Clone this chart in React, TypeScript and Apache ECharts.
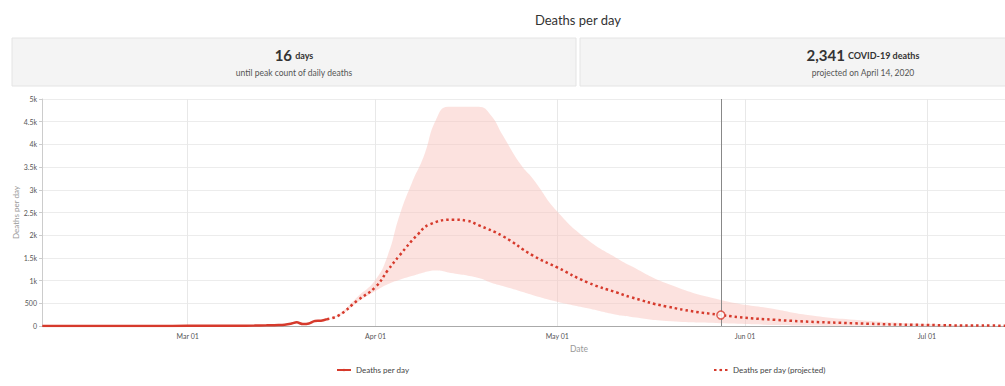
import React, { useEffect, useRef } from "react";
import * as echarts from "echarts";

// ---- data ----
const actualDates = [
  "2020-02-06", "2020-02-15", "2020-02-25", "2020-03-01", "2020-03-05", "2020-03-09",
  "2020-03-12", "2020-03-14", "2020-03-16", "2020-03-17", "2020-03-18", "2020-03-19",
  "2020-03-20", "2020-03-21", "2020-03-22", "2020-03-23", "2020-03-24",
];
const actualValues = [0, 1, 2, 3, 4, 6, 10, 15, 22, 30, 50, 80, 42, 55, 112, 115, 150];

const projDates = [
  "2020-03-24", "2020-03-26", "2020-03-29", "2020-04-01", "2020-04-03", "2020-04-05",
  "2020-04-08", "2020-04-10", "2020-04-14", "2020-04-16", "2020-04-18", "2020-04-22",
  "2020-04-27", "2020-05-01", "2020-05-06", "2020-05-11", "2020-05-13", "2020-05-19",
  "2020-05-28", "2020-06-06", "2020-06-19", "2020-07-01", "2020-07-14", "2020-07-20",
];
const projValues = [
  150, 240, 560, 860, 1220, 1560, 2020, 2240, 2341, 2320, 2220, 1980,
  1550, 1290, 960, 730, 640, 430, 242, 135, 60, 22, 7, 4,
];

const bandDates = [
  "2020-03-24", "2020-03-26", "2020-03-29", "2020-04-01", "2020-04-03", "2020-04-05",
  "2020-04-07", "2020-04-09", "2020-04-11", "2020-04-13", "2020-04-18", "2020-04-20",
  "2020-04-22", "2020-04-25", "2020-04-27", "2020-05-01", "2020-05-06", "2020-05-11",
  "2020-05-13", "2020-05-19", "2020-05-28", "2020-06-06", "2020-06-11", "2020-06-19",
  "2020-07-01", "2020-07-14", "2020-07-20",
];
const bandLower = [
  150, 225, 520, 770, 920, 1020, 1100, 1180, 1220, 1180, 1060, 960,
  880, 760, 680, 535, 390, 240, 205, 110, 60, 22, 10, 5, 2, 0, 0,
];
const bandUpper = [
  150, 265, 640, 1020, 1550, 2450, 3150, 3750, 4550, 4830, 4830, 4650,
  4200, 3550, 3240, 2520, 1900, 1480, 1330, 940, 573, 370, 250, 140, 45, 7, 4,
];

const markerDate = "2020-05-28";
const markerValue = 242;

const yTicks = { min: 0, max: 5000, interval: 500 };

const DAY = 86400000;
const MAR1 = new Date(2020, 2, 1).getTime();
const MONTHS = ["Jan", "Feb", "Mar", "Apr", "May", "Jun", "Jul", "Aug", "Sep", "Oct", "Nov", "Dec"];

const RED = "#d63a2c";
const FONT = "Lato, 'Open Sans', sans-serif";

export default function App() {
  const ref = useRef<HTMLDivElement>(null);

  useEffect(() => {
    document.body.style.margin = "0";
    const chart = echarts.init(ref.current!, null, { renderer: "svg" });

    const actual = actualDates.map((d, i) => [d, actualValues[i]]);
    const proj = projDates.map((d, i) => [d, projValues[i]]);
    const low = bandDates.map((d, i) => [d, bandLower[i]]);
    const range = bandDates.map((d, i) => [d, bandUpper[i] - bandLower[i]]);

    chart.setOption({
      animation: false,
      textStyle: { fontFamily: FONT },
      grid: { left: 42, right: 0, top: 99, bottom: 60, containLabel: false },
      xAxis: {
        type: "time",
        min: MAR1 - 24.05 * DAY,
        max: MAR1 + 134.9 * DAY,
        minInterval: 28 * DAY,
        maxInterval: 31 * DAY,
        axisLine: { lineStyle: { color: "#aaa" } },
        axisTick: { show: false },
        splitLine: { show: true, lineStyle: { color: "#e8e8e8" } },
        axisLabel: {
          fontSize: 7,
          color: "#555",
          margin: 6,
          formatter: (v: number) => {
            const d = new Date(v);
            return MONTHS[d.getMonth()] + " " + String(d.getDate()).padStart(2, "0");
          },
        },
      },
      yAxis: {
        type: "value",
        min: yTicks.min,
        max: yTicks.max,
        interval: yTicks.interval,
        name: "Deaths per day",
        nameLocation: "middle",
        nameGap: 22,
        nameMoveOverlap: false,
        nameTextStyle: { color: "#999", fontSize: 8 },
        axisLine: { show: true, lineStyle: { color: "#ccc" } },
        axisTick: { show: true, length: 3, lineStyle: { color: "#ccc" } },
        splitLine: { lineStyle: { color: "#ececec" } },
        axisLabel: {
          fontSize: 7,
          color: "#555",
          margin: 5,
          formatter: (v: number) => (v >= 1000 ? v / 1000 + "k" : String(v)),
        },
      },
      legend: [
        {
          data: ["Deaths per day"],
          left: 331,
          top: 361,
          itemWidth: 14,
          itemHeight: 3,
          itemGap: 8,
          textStyle: { fontSize: 8, color: "#444" },
        },
        {
          data: ["Deaths per day (projected)"],
          left: 708,
          top: 361,
          itemWidth: 14,
          itemHeight: 3,
          textStyle: { fontSize: 8, color: "#444" },
        },
      ],
      series: [
        {
          name: "bandLow",
          type: "line",
          stack: "band",
          data: low,
          symbol: "none",
          smooth: 0.5,
          lineStyle: { opacity: 0 },
          silent: true,
        },
        {
          name: "bandRange",
          type: "line",
          stack: "band",
          data: range,
          symbol: "none",
          smooth: 0.5,
          lineStyle: { opacity: 0 },
          areaStyle: { color: "rgba(248, 196, 190, 0.7)" },
          silent: true,
        },
        {
          name: "Deaths per day",
          type: "line",
          data: actual,
          symbol: "none",
          smooth: 0.3,
          color: RED,
          lineStyle: { color: RED, width: 2.5 },
          z: 5,
        },
        {
          name: "Deaths per day (projected)",
          type: "line",
          data: proj,
          symbol: "none",
          smooth: 0.5,
          color: RED,
          lineStyle: { color: RED, width: 2.5, type: [2.5, 3] },
          z: 5,
          markLine: {
            silent: true,
            symbol: "none",
            label: { show: false },
            lineStyle: { color: "#888", type: "solid", width: 1 },
            data: [{ xAxis: markerDate }],
          },
        },
        {
          name: "marker",
          type: "scatter",
          data: [[markerDate, markerValue]],
          symbol: "circle",
          symbolSize: 8,
          itemStyle: { color: "#fff", borderColor: RED, borderWidth: 1.5 },
          z: 10,
        },
      ],
      graphic: [
        {
          type: "text",
          style: {
            text: "Deaths per day",
            x: 578,
            y: 20,
            textAlign: "center",
            textVerticalAlign: "middle",
            align: "center",
            verticalAlign: "middle",
            fontSize: 13,
            fill: "#333",
            fontFamily: FONT,
          },
        },
        {
          type: "rect",
          shape: { x: 12, y: 38, width: 564, height: 48 },
          style: { fill: "#f4f4f4", stroke: "#e4e4e4", lineWidth: 1 },
        },
        {
          type: "rect",
          shape: { x: 580, y: 38, width: 566, height: 48 },
          style: { fill: "#f4f4f4", stroke: "#e4e4e4", lineWidth: 1 },
        },
        {
          type: "text",
          style: {
            text: "{a|16} {b|days}",
            x: 294,
            y: 55,
            textAlign: "center",
            textVerticalAlign: "middle",
            align: "center",
            verticalAlign: "middle",
            fontFamily: FONT,
            rich: {
              a: { fontSize: 15, fontWeight: "bold", fill: "#333", fontFamily: FONT },
              b: { fontSize: 9, fontWeight: "bold", fill: "#333", fontFamily: FONT },
            },
          },
        },
        {
          type: "text",
          style: {
            text: "until peak count of daily deaths",
            x: 294,
            y: 73,
            textAlign: "center",
            textVerticalAlign: "middle",
            align: "center",
            verticalAlign: "middle",
            fontSize: 8.5,
            fill: "#555",
            fontFamily: FONT,
          },
        },
        {
          type: "text",
          style: {
            text: "{a|2,341} {b|COVID-19 deaths}",
            x: 863,
            y: 55,
            textAlign: "center",
            textVerticalAlign: "middle",
            align: "center",
            verticalAlign: "middle",
            fontFamily: FONT,
            rich: {
              a: { fontSize: 15, fontWeight: "bold", fill: "#333", fontFamily: FONT },
              b: { fontSize: 9, fontWeight: "bold", fill: "#333", fontFamily: FONT },
            },
          },
        },
        {
          type: "text",
          style: {
            text: "projected on April 14, 2020",
            x: 863,
            y: 73,
            textAlign: "center",
            textVerticalAlign: "middle",
            align: "center",
            verticalAlign: "middle",
            fontSize: 8.5,
            fill: "#555",
            fontFamily: FONT,
          },
        },
        {
          type: "text",
          style: {
            text: "Date",
            x: 579,
            y: 349,
            textAlign: "center",
            textVerticalAlign: "middle",
            align: "center",
            verticalAlign: "middle",
            fontSize: 8.5,
            fill: "#999",
            fontFamily: FONT,
          },
        },
      ],
    });

    return () => chart.dispose();
  }, []);

  return <div ref={ref} style={{ width: 1005, height: 386 }} />;
}
